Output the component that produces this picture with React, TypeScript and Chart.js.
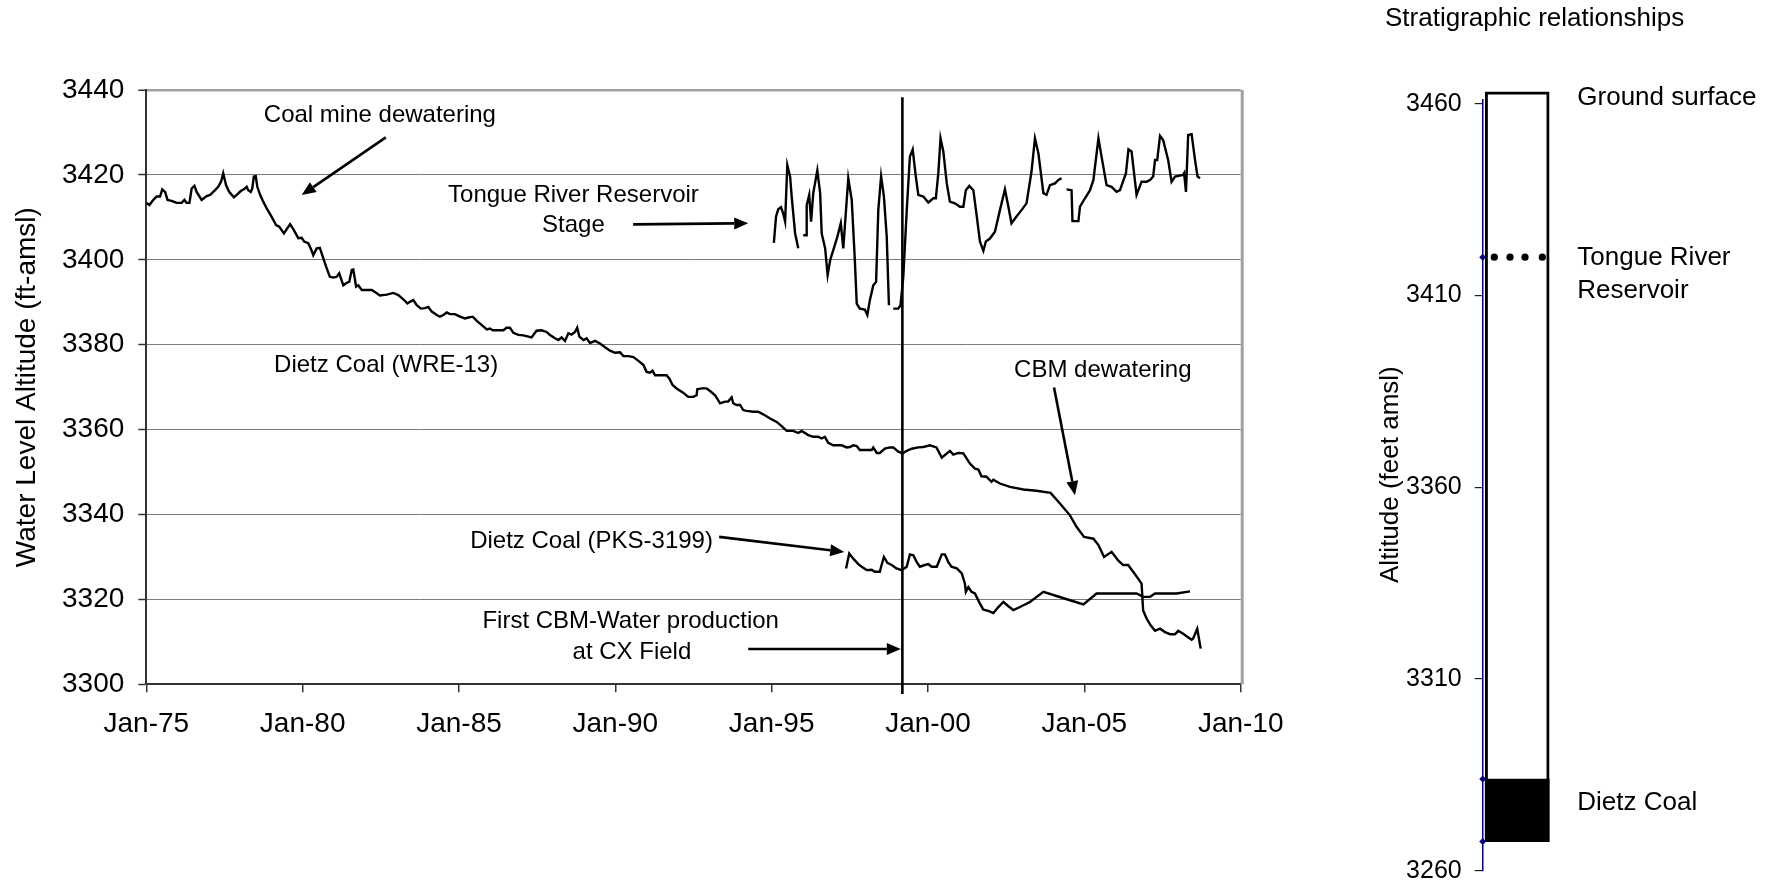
import React, { useEffect, useRef } from "react";
import { Chart, registerables } from "chart.js";

Chart.register(...registerables);

const FONT = "'Liberation Sans', Arial, Helvetica, sans-serif";

// ---------- Main hydrograph data ----------
const X_MIN = 1975;
const X_MAX = 2010;
const X_STEP = 5;
const Y_MIN = 3300;
const Y_MAX = 3440;
const Y_STEP = 20;

// Dietz Coal (WRE-13): [decimal year, water level ft-amsl]
const WRE13: [number, number][] = [
  [1975.01, 3413.4], [1975.1, 3412.9], [1975.22, 3414.1], [1975.33, 3414.9], [1975.44, 3414.9], [1975.51, 3416.6],
  [1975.6, 3416.0], [1975.68, 3414.1], [1975.81, 3413.9], [1975.97, 3413.4], [1976.13, 3413.4], [1976.22, 3414.1],
  [1976.29, 3413.4], [1976.38, 3413.4], [1976.45, 3416.8], [1976.54, 3417.4], [1976.61, 3416.0], [1976.77, 3414.1],
  [1976.93, 3415.0], [1977.04, 3415.3], [1977.2, 3416.4], [1977.3, 3417.2], [1977.39, 3418.4], [1977.46, 3420.4],
  [1977.55, 3417.6], [1977.65, 3416.0], [1977.8, 3414.7], [1977.91, 3415.4], [1978.02, 3416.2], [1978.12, 3416.6],
  [1978.21, 3417.2], [1978.26, 3416.4], [1978.34, 3416.0], [1978.39, 3416.8], [1978.44, 3419.6], [1978.5, 3419.7],
  [1978.55, 3417.2], [1978.64, 3415.3], [1978.74, 3413.7], [1978.85, 3412.1], [1979.01, 3410.1], [1979.15, 3408.2],
  [1979.25, 3407.8], [1979.4, 3406.2], [1979.6, 3408.4], [1979.72, 3407.0], [1979.86, 3405.1], [1979.97, 3405.2],
  [1980.05, 3404.3], [1980.18, 3403.9], [1980.27, 3402.5], [1980.34, 3401.1], [1980.45, 3402.7], [1980.55, 3402.8],
  [1980.68, 3399.9], [1980.77, 3398.0], [1980.87, 3396.0], [1980.98, 3395.8], [1981.09, 3396.0], [1981.17, 3396.8],
  [1981.3, 3394.0], [1981.41, 3394.6], [1981.49, 3394.8], [1981.57, 3397.6], [1981.62, 3397.7], [1981.71, 3393.7],
  [1981.78, 3394.0], [1981.89, 3392.9], [1982.05, 3392.9], [1982.21, 3392.9], [1982.37, 3392.1], [1982.47, 3391.6],
  [1982.69, 3391.8], [1982.9, 3392.2], [1983.06, 3391.7], [1983.22, 3390.7], [1983.35, 3389.7], [1983.43, 3390.1],
  [1983.54, 3390.5], [1983.65, 3389.3], [1983.78, 3388.5], [1983.91, 3388.6], [1984.02, 3388.9], [1984.13, 3387.8],
  [1984.29, 3387.0], [1984.39, 3386.6], [1984.5, 3387.0], [1984.61, 3387.6], [1984.71, 3387.2], [1984.87, 3387.2],
  [1985.03, 3386.6], [1985.19, 3386.2], [1985.3, 3386.4], [1985.44, 3386.6], [1985.57, 3385.6], [1985.73, 3384.6],
  [1985.89, 3383.6], [1985.99, 3383.8], [1986.08, 3383.4], [1986.2, 3383.4], [1986.42, 3383.4], [1986.52, 3384.0],
  [1986.63, 3384.0], [1986.74, 3382.8], [1986.9, 3382.3], [1987.06, 3382.2], [1987.32, 3381.7], [1987.48, 3383.3],
  [1987.64, 3383.4], [1987.8, 3383.0], [1987.91, 3382.3], [1988.07, 3381.5], [1988.18, 3381.1], [1988.28, 3381.7],
  [1988.39, 3380.9], [1988.5, 3382.7], [1988.6, 3382.4], [1988.71, 3383.0], [1988.78, 3384.0], [1988.85, 3381.9],
  [1988.98, 3381.1], [1989.08, 3381.5], [1989.19, 3380.4], [1989.35, 3380.9], [1989.51, 3380.3], [1989.67, 3379.4],
  [1989.83, 3378.6], [1989.99, 3378.1], [1990.15, 3378.2], [1990.26, 3377.3], [1990.42, 3377.3], [1990.58, 3377.1],
  [1990.74, 3376.2], [1990.9, 3375.2], [1991.0, 3373.6], [1991.11, 3373.4], [1991.19, 3373.9], [1991.27, 3372.8],
  [1991.43, 3372.8], [1991.64, 3372.8], [1991.73, 3372.0], [1991.83, 3370.5], [1991.96, 3369.7], [1992.17, 3368.7],
  [1992.33, 3367.7], [1992.49, 3367.7], [1992.6, 3368.1], [1992.62, 3369.5], [1992.76, 3369.7], [1992.92, 3369.7],
  [1993.03, 3369.1], [1993.19, 3368.1], [1993.35, 3366.2], [1993.51, 3366.6], [1993.61, 3366.6], [1993.72, 3367.6],
  [1993.77, 3366.2], [1993.88, 3365.8], [1993.99, 3365.8], [1994.09, 3364.6], [1994.2, 3364.4], [1994.41, 3364.2],
  [1994.57, 3364.2], [1994.73, 3363.6], [1994.95, 3362.6], [1995.16, 3361.8], [1995.32, 3360.8], [1995.48, 3359.7],
  [1995.69, 3359.7], [1995.85, 3359.2], [1995.96, 3359.7], [1996.17, 3358.7], [1996.33, 3358.3], [1996.49, 3358.3],
  [1996.6, 3357.9], [1996.7, 3358.3], [1996.81, 3356.9], [1996.97, 3356.3], [1997.24, 3356.3], [1997.4, 3355.8],
  [1997.5, 3355.9], [1997.61, 3356.3], [1997.72, 3356.1], [1997.82, 3355.2], [1998.04, 3355.2], [1998.2, 3355.2],
  [1998.25, 3355.8], [1998.36, 3354.5], [1998.46, 3354.5], [1998.62, 3355.5], [1998.78, 3355.8], [1998.89, 3355.8],
  [1999.05, 3354.8], [1999.19, 3354.4], [1999.32, 3355.0], [1999.48, 3355.5], [1999.69, 3355.8], [1999.85, 3355.9],
  [2000.06, 3356.3], [2000.27, 3355.8], [2000.44, 3353.4], [2000.7, 3355.0], [2000.81, 3354.1], [2000.97, 3354.5],
  [2001.13, 3354.4], [2001.34, 3352.0], [2001.5, 3350.8], [2001.61, 3350.6], [2001.71, 3349.0], [2001.87, 3348.9],
  [2002.03, 3347.7], [2002.09, 3348.2], [2002.3, 3347.3], [2002.62, 3346.5], [2003.05, 3345.9], [2003.47, 3345.6],
  [2003.92, 3345.1], [2004.22, 3342.6], [2004.54, 3339.8], [2004.75, 3337.1], [2004.99, 3334.7], [2005.29, 3334.3],
  [2005.45, 3332.8], [2005.63, 3330.0], [2005.87, 3331.2], [2006.08, 3329.2], [2006.24, 3328.1], [2006.4, 3328.1],
  [2006.56, 3326.5], [2006.72, 3324.9], [2006.83, 3323.7], [2006.88, 3317.4], [2006.99, 3315.5], [2007.12, 3313.9],
  [2007.26, 3312.6], [2007.42, 3313.1], [2007.58, 3312.3], [2007.74, 3311.8], [2007.9, 3311.8], [2008.0, 3312.6],
  [2008.16, 3311.9], [2008.27, 3311.3], [2008.43, 3310.5], [2008.48, 3310.8], [2008.61, 3313.1], [2008.72, 3308.4],
];

// Dietz Coal (PKS-3199)
const PKS3199: [number, number][] = [
  [1997.38, 3327.3], [1997.48, 3330.8], [1997.61, 3329.6], [1997.77, 3328.3], [1997.88, 3327.7], [1998.04, 3326.9],
  [1998.2, 3327.0], [1998.3, 3326.5], [1998.46, 3326.5], [1998.5, 3327.7], [1998.59, 3330.0], [1998.7, 3328.6],
  [1998.84, 3328.1], [1998.99, 3327.3], [1999.16, 3326.9], [1999.32, 3327.7], [1999.42, 3330.6], [1999.53, 3330.4],
  [1999.64, 3328.8], [1999.74, 3327.7], [1999.9, 3328.1], [2000.01, 3328.3], [2000.12, 3327.7], [2000.28, 3327.7],
  [2000.44, 3330.6], [2000.54, 3330.6], [2000.65, 3328.8], [2000.75, 3327.7], [2000.92, 3327.3], [2001.08, 3326.1],
  [2001.18, 3323.7], [2001.21, 3321.8], [2001.29, 3322.9], [2001.39, 3321.8], [2001.5, 3321.4], [2001.66, 3319.0],
  [2001.77, 3317.6], [2001.93, 3317.3], [2002.09, 3316.8], [2002.25, 3318.2], [2002.41, 3319.4], [2002.57, 3318.4],
  [2002.73, 3317.5], [2002.94, 3318.2], [2003.26, 3319.4], [2003.69, 3321.8], [2004.11, 3320.8], [2004.54, 3319.8],
  [2004.97, 3318.8], [2005.39, 3321.4], [2005.92, 3321.4], [2006.67, 3321.4], [2006.88, 3320.6], [2007.1, 3320.6],
  [2007.26, 3321.4], [2007.52, 3321.4], [2007.95, 3321.4], [2008.38, 3321.9],
];

// Tongue River Reservoir stage (null = gap in record)
const RESERVOIR: [number, number | null][] = [
  [1995.07, 3404.0], [1995.14, 3410.2], [1995.21, 3411.9], [1995.3, 3412.4], [1995.37, 3410.9], [1995.43, 3409.0],
  [1995.5, 3422.3], [1995.59, 3419.6], [1995.64, 3414.9], [1995.75, 3406.2], [1995.85, 3402.7], [1995.93, null],
  [1996.01, 3405.8], [1996.1, 3405.8], [1996.12, 3412.9], [1996.2, 3415.3], [1996.26, 3409.0], [1996.33, 3415.7],
  [1996.46, 3421.1], [1996.55, 3415.7], [1996.6, 3406.2], [1996.71, 3402.7], [1996.79, 3396.4], [1996.87, 3399.9],
  [1996.97, 3402.3], [1997.1, 3405.4], [1997.21, 3408.6], [1997.29, 3402.7], [1997.45, 3419.2], [1997.56, 3414.1],
  [1997.66, 3399.9], [1997.72, 3389.7], [1997.82, 3388.5], [1997.98, 3388.3], [1998.06, 3387.0], [1998.14, 3390.5],
  [1998.25, 3394.0], [1998.34, 3394.8], [1998.41, 3411.7], [1998.5, 3419.7], [1998.59, 3414.9], [1998.68, 3405.4],
  [1998.75, 3389.3], [1998.82, null], [1998.89, 3388.5], [1999.05, 3388.5], [1999.12, 3389.3], [1999.21, 3396.0],
  [1999.32, 3411.7], [1999.42, 3424.3], [1999.51, 3426.0], [1999.61, 3419.6], [1999.69, 3415.3], [1999.85, 3414.9],
  [2000.01, 3413.5], [2000.17, 3414.5], [2000.25, 3414.5], [2000.33, 3420.4], [2000.4, 3428.6], [2000.49, 3425.5],
  [2000.6, 3418.0], [2000.7, 3413.7], [2000.86, 3413.3], [2001.02, 3412.5], [2001.13, 3412.5], [2001.21, 3416.4],
  [2001.32, 3417.4], [2001.45, 3416.4], [2001.56, 3410.2], [2001.66, 3404.3], [2001.77, 3402.1], [2001.85, 3404.3],
  [2001.98, 3405.0], [2002.14, 3406.6], [2002.3, 3411.7], [2002.46, 3416.6], [2002.57, 3412.5], [2002.67, 3408.6],
  [2002.83, 3410.2], [2002.99, 3411.7], [2003.15, 3413.3], [2003.31, 3420.8], [2003.42, 3428.6], [2003.53, 3425.1],
  [2003.69, 3415.7], [2003.79, 3415.3], [2003.9, 3417.6], [2004.06, 3418.0], [2004.17, 3418.8], [2004.27, 3419.2],
  [2004.35, null], [2004.43, 3416.6], [2004.59, 3416.4], [2004.62, 3409.1], [2004.81, 3409.1], [2004.86, 3412.5],
  [2005.02, 3414.5], [2005.18, 3416.4], [2005.29, 3418.8], [2005.45, 3428.6], [2005.55, 3424.3], [2005.71, 3417.6],
  [2005.87, 3417.2], [2006.03, 3416.0], [2006.14, 3416.4], [2006.33, 3420.4], [2006.41, 3426.0], [2006.51, 3425.5],
  [2006.67, 3415.3], [2006.83, 3418.4], [2006.99, 3418.4], [2007.1, 3418.8], [2007.2, 3419.6], [2007.26, 3423.5],
  [2007.33, 3423.5], [2007.42, 3429.2], [2007.52, 3428.2], [2007.68, 3423.5], [2007.79, 3418.4], [2007.9, 3419.6],
  [2008.16, 3420.0], [2008.19, 3420.4], [2008.25, 3416.0], [2008.32, 3429.4], [2008.43, 3429.6], [2008.54, 3423.5],
  [2008.62, 3419.6], [2008.7, 3419.2],
];

// First CBM-water production at CX field (vertical marker)
const FIRST_CBM_YEAR = 1999.18;
const FIRST_CBM_SPAN: [number, number] = [3297.7, 3438.3];

// Annotations (data coordinates)
const NOTES: { text: string; x: number; y: number }[] = [
  { text: "Coal mine dewatering", x: 1982.47, y: 3434.1 },
  { text: "Tongue River Reservoir", x: 1988.66, y: 3415.25 },
  { text: "Stage", x: 1988.66, y: 3408.2 },
  { text: "Dietz Coal (WRE-13)", x: 1982.67, y: 3375.2 },
  { text: "CBM dewatering", x: 2005.59, y: 3374.0 },
  { text: "Dietz Coal (PKS-3199)", x: 1989.24, y: 3333.7 },
  { text: "First CBM-Water production", x: 1990.49, y: 3314.85 },
  { text: "at CX Field", x: 1990.53, y: 3307.55 },
];
const ARROWS: [number, number, number, number][] = [
  [1982.66, 3428.85, 1979.97, 3415.25],
  [1990.57, 3408.35, 1994.25, 3408.6],
  [2004.03, 3369.93, 2004.7, 3344.55],
  [1993.32, 3334.72, 1997.32, 3331.18],
  [1994.25, 3308.33, 1999.13, 3308.33],
];

// ---------- Stratigraphic column data ----------
const STRAT_MIN = 3260;
const STRAT_MAX = 3461;
const STRAT_TICKS = [3260, 3310, 3360, 3410, 3460];
const GROUND_SURFACE = 3463.1;
const COLUMN_BASE = 3267.6;
const DIETZ_TOP = 3283.9;
const RESERVOIR_LEVEL = 3420;
const RESERVOIR_DOTS = [0.168, 0.396, 0.613, 0.864];
const STRAT_LABELS: { text: string; y: number }[] = [
  { text: "Ground surface", y: 3461.6 },
  { text: "Tongue River", y: 3419.9 },
  { text: "Reservoir", y: 3411.3 },
  { text: "Dietz Coal", y: 3277.7 },
];

const toXY = (arr: [number, number | null][]) => arr.map(([x, y]) => ({ x, y }));
const plainNumber = (v: any) => String(Math.round(Number(v)));

const notesPlugin = {
  id: "notes",
  afterDatasetsDraw(chart: any) {
    const { ctx, chartArea } = chart;
    const xs = chart.scales.x;
    const ys = chart.scales.y;
    ctx.save();
    // plot-area right border
    ctx.strokeStyle = "#a0a0a0";
    ctx.lineWidth = 3;
    ctx.beginPath();
    ctx.moveTo(chartArea.right + 1.5, chartArea.top);
    ctx.lineTo(chartArea.right + 1.5, chartArea.bottom);
    ctx.stroke();

    ctx.fillStyle = "#000";
    ctx.font = `24px ${FONT}`;
    ctx.textAlign = "center";
    ctx.textBaseline = "middle";
    for (const n of NOTES) {
      ctx.fillText(n.text, xs.getPixelForValue(n.x), ys.getPixelForValue(n.y));
    }
    ctx.strokeStyle = "#000";
    ctx.lineWidth = 2.6;
    for (const [x1, y1, x2, y2] of ARROWS) {
      const ax = xs.getPixelForValue(x1);
      const ay = ys.getPixelForValue(y1);
      const bx = xs.getPixelForValue(x2);
      const by = ys.getPixelForValue(y2);
      const ang = Math.atan2(by - ay, bx - ax);
      const head = 14;
      const half = 6;
      const hx = bx - head * Math.cos(ang);
      const hy = by - head * Math.sin(ang);
      ctx.beginPath();
      ctx.moveTo(ax, ay);
      ctx.lineTo(hx, hy);
      ctx.stroke();
      ctx.beginPath();
      ctx.moveTo(bx, by);
      ctx.lineTo(hx + half * Math.sin(ang), hy - half * Math.cos(ang));
      ctx.lineTo(hx - half * Math.sin(ang), hy + half * Math.cos(ang));
      ctx.closePath();
      ctx.fill();
    }
    ctx.restore();
  },
};

function MainChart() {
  const ref = useRef<HTMLCanvasElement>(null);
  useEffect(() => {
    const lineStyle = {
      borderColor: "#000",
      borderWidth: 2.4,
      pointRadius: 0,
      tension: 0,
      fill: false,
    };
    const chart = new Chart(ref.current as HTMLCanvasElement, {
      type: "line",
      data: {
        datasets: [
          { label: "Dietz Coal (WRE-13)", data: toXY(WRE13), ...lineStyle },
          { label: "Dietz Coal (PKS-3199)", data: toXY(PKS3199), ...lineStyle },
          { label: "Tongue River Reservoir Stage", data: toXY(RESERVOIR), spanGaps: false, ...lineStyle },
          {
            label: "First CBM-Water production",
            data: [
              { x: FIRST_CBM_YEAR, y: FIRST_CBM_SPAN[1] },
              { x: FIRST_CBM_YEAR, y: FIRST_CBM_SPAN[0] },
            ],
            clip: false,
            ...lineStyle,
            borderWidth: 2.6,
          },
        ] as any,
      },
      options: {
        animation: false,
        responsive: false,
        maintainAspectRatio: false,
        events: [],
        layout: { padding: { top: 90, left: 0, right: 59.3, bottom: 0 } },
        plugins: { legend: { display: false }, tooltip: { enabled: false }, title: { display: false } },
        scales: {
          x: {
            type: "linear",
            min: X_MIN,
            max: X_MAX,
            ticks: {
              stepSize: X_STEP,
              autoSkip: false,
              maxRotation: 0,
              color: "#000",
              padding: 15,
              font: { family: FONT, size: 28 },
              callback: (v: any) => "Jan-" + String(Number(v) % 100).padStart(2, "0"),
            },
            grid: { drawOnChartArea: false, drawTicks: true, tickLength: 8, color: "#333", lineWidth: 1.5 },
            border: { color: "#333", width: 2 },
            afterFit: (s: any) => {
              s.height = 198.7;
            },
          },
          y: {
            type: "linear",
            min: Y_MIN,
            max: Y_MAX,
            ticks: {
              stepSize: Y_STEP,
              color: "#000",
              padding: 14,
              font: { family: FONT, size: 28 },
              callback: plainNumber,
            },
            grid: {
              color: (c: any) =>
                c.tick && c.tick.value === Y_MAX ? "#a0a0a0" : c.tick && c.tick.value === Y_MIN ? "#333" : "#7a7a7a",
              lineWidth: (c: any) => (c.tick && c.tick.value === Y_MAX ? 2.5 : 1),
              tickColor: "#333",
              tickWidth: 1.5,
              tickLength: 8,
            },
            border: { color: "#333", width: 2 },
            title: {
              display: true,
              text: "Water Level Altitude (ft-amsl)",
              color: "#000",
              font: { family: FONT, size: 28 },
              padding: { top: 10, bottom: 0 },
            },
            afterFit: (s: any) => {
              s.width = 146.3;
            },
          },
        },
      } as any,
      plugins: [notesPlugin],
    });
    return () => chart.destroy();
  }, []);
  return (
    <canvas
      ref={ref}
      width={1300}
      height={883}
      style={{ position: "absolute", left: 0, top: 0, width: 1300, height: 883 }}
    />
  );
}

const stratPlugin = {
  id: "stratLabels",
  afterDraw(chart: any) {
    const { ctx, chartArea } = chart;
    const ys = chart.scales.y;
    ctx.save();
    ctx.fillStyle = "#000";
    ctx.font = `26px ${FONT}`;
    ctx.textBaseline = "middle";
    ctx.textAlign = "left";
    ctx.fillText("Stratigraphic relationships", chartArea.left - 97.7, 19);
    const lx = chartArea.right + 25.6;
    for (const l of STRAT_LABELS) {
      ctx.fillText(l.text, lx, ys.getPixelForValue(l.y));
    }
    // axis title
    ctx.translate(chartArea.left - 91.7, ys.getPixelForValue(3363.3));
    ctx.rotate(-Math.PI / 2);
    ctx.textAlign = "center";
    ctx.fillText("Altitude (feet amsl)", 0, 0);
    ctx.restore();
  },
};

// The stratigraphic canvas is taller than the page; the extra part below is clipped
const STRAT_CANVAS_H = 930;

function StratChart() {
  const ref = useRef<HTMLCanvasElement>(null);
  useEffect(() => {
    const chart = new Chart(ref.current as HTMLCanvasElement, {
      type: "bar",
      data: {
        datasets: [
          {
            type: "scatter",
            label: "Reservoir level",
            data: RESERVOIR_DOTS.map((x) => ({ x, y: RESERVOIR_LEVEL })),
            pointRadius: 3.6,
            pointBackgroundColor: "#000",
            pointBorderWidth: 0,
            order: 0,
          },
          {
            type: "scatter",
            label: "Markers",
            data: [
              { x: 0, y: RESERVOIR_LEVEL },
              { x: 0, y: DIETZ_TOP },
              { x: 0, y: COLUMN_BASE },
            ],
            pointStyle: "rectRot",
            pointRadius: 3.5,
            pointBackgroundColor: "#000080",
            pointBorderWidth: 0,
            clip: false,
            order: 0,
          },
          {
            type: "bar",
            label: "Dietz Coal",
            data: [{ x: 0.5, y: [COLUMN_BASE, DIETZ_TOP] }],
            backgroundColor: "#000",
            borderWidth: 0,
            barThickness: 64,
            grouped: false,
            clip: false,
            order: 1,
          },
          {
            type: "bar",
            label: "Column",
            data: [{ x: 0.5, y: [COLUMN_BASE, GROUND_SURFACE] }],
            backgroundColor: "#fff",
            borderColor: "#000",
            borderWidth: 3,
            borderSkipped: false,
            barThickness: 64,
            grouped: false,
            clip: false,
            order: 2,
          },
        ] as any,
      },
      options: {
        animation: false,
        responsive: false,
        maintainAspectRatio: false,
        events: [],
        layout: { padding: { top: 100, left: 0, right: 228.3, bottom: STRAT_CANVAS_H - 870.7 } },
        plugins: { legend: { display: false }, tooltip: { enabled: false } },
        scales: {
          x: { type: "linear", min: 0, max: 1, display: false, offset: false },
          y: {
            type: "linear",
            min: STRAT_MIN,
            max: STRAT_MAX,
            beginAtZero: false,
            ticks: {
              color: "#000",
              padding: 13,
              font: { family: FONT, size: 25 },
              callback: plainNumber,
            },
            afterBuildTicks: (axis: any) => {
              axis.ticks = STRAT_TICKS.map((value) => ({ value }));
            },
            grid: { drawOnChartArea: false, tickLength: 8, color: "#222", lineWidth: 1.2 },
            border: { color: "#000080", width: 1.5 },
            afterFit: (s: any) => {
              s.width = 182.7;
            },
          },
        },
      } as any,
      plugins: [stratPlugin],
    });
    return () => chart.destroy();
  }, []);
  return (
    <canvas
      ref={ref}
      width={480}
      height={STRAT_CANVAS_H}
      style={{ position: "absolute", left: 1300, top: 0, width: 480, height: STRAT_CANVAS_H }}
    />
  );
}

export default function App() {
  return (
    <div style={{ position: "absolute", left: 0, top: 0, width: 1780, height: 883, background: "#fff", overflow: "hidden" }}>
      <MainChart />
      <StratChart />
    </div>
  );
}
